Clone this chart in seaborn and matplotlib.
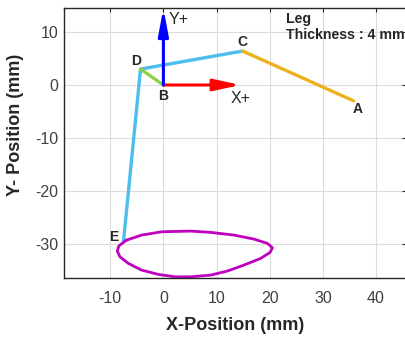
import matplotlib
matplotlib.use("Agg")
import matplotlib.pyplot as plt
import seaborn as sns
import pandas as pd

# Joint positions (mm)
joint_names = ["A", "B", "C", "D", "E"]
joint_x = [35.8, 0.0, 14.9, -4.3, -7.5]
joint_y = [-3.0, 0.0, 6.4, 3.0, -29.4]

# Foot trajectory loop (mm)
traj_x = [-6.92, -4.09, -0.32, 5.09, 8.87, 13.26, 17.04, 19.57, 20.51, 20.06, 18.30, 15.15,
          12.02, 8.87, 5.09, 2.21, -0.94, -4.09, -6.60, -8.17, -8.68, -8.36, -6.92]
traj_y = [-29.25, -28.30, -27.68, -27.55, -27.79, -28.30, -29.06, -29.87, -30.70, -31.57, -32.70, -33.96,
          -35.09, -35.85, -36.17, -36.17, -35.72, -34.91, -33.64, -32.40, -31.32, -30.32, -29.25]

x_ticks = [-10, 0, 10, 20, 30, 40]
y_ticks = [-30, -20, -10, 0, 10]

sns.set_style("white")
plt.rcParams["font.family"] = ["Liberation Sans", "DejaVu Sans"]

fig = plt.figure(figsize=(4.05, 3.37), dpi=100)
ax = fig.add_axes([0.158, 0.175, 0.844, 0.801])

J = dict(zip(joint_names, zip(joint_x, joint_y)))

def seg(names):
    return pd.DataFrame({"x": [J[n][0] for n in names], "y": [J[n][1] for n in names]})

sns.lineplot(data=seg(["E", "D", "C"]), x="x", y="y", sort=False, color="#4DBEEE", lw=2.4, ax=ax, estimator=None)
sns.lineplot(data=seg(["C", "A"]), x="x", y="y", sort=False, color="#EDB120", lw=2.4, ax=ax, estimator=None)
sns.lineplot(data=seg(["B", "D"]), x="x", y="y", sort=False, color="#8CD148", lw=2.4, ax=ax, estimator=None)
sns.lineplot(data=pd.DataFrame({"x": traj_x, "y": traj_y}), x="x", y="y", sort=False,
             color="#BF00BF", lw=2.0, ax=ax, estimator=None)
for ln in ax.lines:
    ln.set_solid_joinstyle("round")
    ln.set_solid_capstyle("round")

# Coordinate frame arrows
ax.annotate("", xy=(14.5, 0), xytext=(0, 0),
            arrowprops=dict(arrowstyle="-|>,head_length=1.6,head_width=0.35", color="#FF0000",
                            lw=2.2, shrinkA=0, shrinkB=0))
ax.annotate("", xy=(0, 14.5), xytext=(0, 0),
            arrowprops=dict(arrowstyle="-|>,head_length=1.6,head_width=0.3", color="#0000FF",
                            lw=2.2, shrinkA=0, shrinkB=0))
ax.text(14.5, -2.6, "X+", fontsize=11.5, ha="center", va="center")
ax.text(0.9, 12.3, "Y+", fontsize=11.5, ha="left", va="center")

label_pos = {"A": (36.5, -4.5), "B": (0.0, -2.1), "C": (14.9, 8.1), "D": (-5.2, 4.5), "E": (-9.3, -28.7)}
for n, (lx, ly) in label_pos.items():
    ax.text(lx, ly, n, fontsize=10, fontweight="bold", ha="center", va="center")

ax.text(23.0, 12.4, "Leg", fontsize=10.2, fontweight="bold", ha="left", va="center")
ax.text(23.0, 9.5, "Thickness : 4 mm", fontsize=10.2, fontweight="bold", ha="left", va="center", clip_on=False)

ax.set_xlim(-18.7, 45.6)
ax.set_ylim(-36.4, 14.5)
ax.set_xticks(x_ticks)
ax.set_yticks(y_ticks)
ax.set_xticklabels([str(t) for t in x_ticks])
ax.set_yticklabels([str(t) for t in y_ticks])
ax.grid(True, color="#DCDCDC", lw=0.8)
ax.set_axisbelow(True)
ax.tick_params(direction="in", length=3, width=0.8, top=True, right=True, labelsize=11.5,
               color="#262626", labelcolor="#404040")
ax.tick_params(axis="x", pad=9)
ax.tick_params(axis="y", pad=4)
for s in ax.spines.values():
    s.set_color("#262626")
    s.set_linewidth(1.0)
ax.set_xlabel("X-Position (mm)", fontsize=13, fontweight="bold", labelpad=8)
ax.set_ylabel("Y- Position (mm)", fontsize=13, fontweight="bold")
ax.yaxis.set_label_coords(-0.117, 0.568)

fig.savefig("out.png", dpi=100)
